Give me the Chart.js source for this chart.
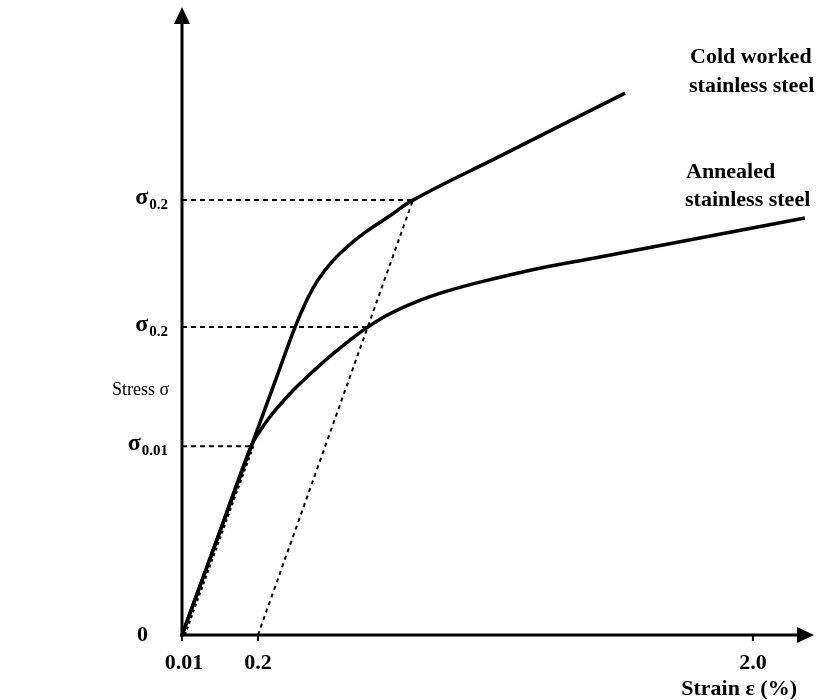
<!DOCTYPE html>
<html>
<head>
<meta charset="utf-8">
<script src="https://cdn.jsdelivr.net/npm/chart.js@4.4.1/dist/chart.umd.min.js"></script>
<style>
  body { margin: 0; background: #fff; }
  #wrap { width: 823px; height: 700px; position: relative; }
</style>
</head>
<body>
<div id="wrap"><canvas id="grafic"></canvas></div>
<script>
// schematic units: x = strain (2.0 tick at 2.0), y = stress (upper sigma 0.2 = 1)
const coldStrain = [0, 0.12, 0.242, 0.33, 0.396, 0.438, 0.476, 0.525, 0.581, 0.644, 0.722, 0.809, 1.114, 1.552];
const coldStress = [0, 0.215, 0.433, 0.590, 0.708, 0.771, 0.816, 0.858, 0.894, 0.927, 0.961, 1.0, 1.101, 1.246];

const annealStrain = [0, 0.12, 0.242, 0.270, 0.305, 0.347, 0.399, 0.462, 0.539, 0.627, 0.715, 0.820, 0.925, 1.047, 1.257, 1.464, 2.182];
const annealStress = [0, 0.215, 0.434, 0.466, 0.499, 0.532, 0.569, 0.608, 0.652, 0.697, 0.734, 0.766, 0.790, 0.812, 0.844, 0.869, 0.959];

const offsetStrain = [0.266, 0.809];
const offsetStress = [0, 1.0];

const elasticStrain = [0.01, 0.25];
const elasticStress = [0, 0.434];

const proofStress = [1.0, 0.708, 0.434];
const proofStrain = [0.809, 0.651, 0.242];

const xTickValues = [0, 0.266, 2.0];
const xTickLabels = ['0.01', '0.2', '2.0'];

const yTickValues = [0, 0.434, 0.708, 1.0];
const yTickLabels = [['0', ''], ['σ', '0.01'], ['σ', '0.2'], ['σ', '0.2']];

const serif = '"Liberation Serif", "Times New Roman", serif';

function points(xs, ys) {
    return xs.map((x, i) => ({x: x, y: ys[i]}));
}

function dashed(xs, ys, dash, width) {
    return {
        data: points(xs, ys),
        borderColor: '#000',
        borderWidth: width,
        borderDash: dash,
        pointRadius: 0,
        tension: 0
    };
}

const datasets = [
    {
        label: 'Cold worked stainless steel',
        data: points(coldStrain, coldStress),
        borderColor: '#000',
        borderWidth: 3.5,
        pointRadius: 0,
        tension: 0.4
    },
    {
        label: 'Annealed stainless steel',
        data: points(annealStrain, annealStress),
        borderColor: '#000',
        borderWidth: 3.5,
        pointRadius: 0,
        tension: 0.4
    },
    dashed(offsetStrain, offsetStress, [4, 4], 2),
    dashed(elasticStrain, elasticStress, [3, 3], 2)
];
proofStress.forEach((s, i) => {
    datasets.push(dashed([0, proofStrain[i]], [s, s], [5, 4], 2));
});

// axes with arrows, tick labels and the curve names
const axesPlugin = {
    id: 'axes',
    afterDraw(chart) {
        const ctx = chart.ctx;
        const xs = chart.scales.x;
        const ys = chart.scales.y;
        const x0 = xs.getPixelForValue(0);
        const y0 = ys.getPixelForValue(0);
        const area = chart.chartArea;
        ctx.save();
        ctx.strokeStyle = '#000';
        ctx.fillStyle = '#000';
        ctx.lineWidth = 3;
        ctx.beginPath();
        ctx.moveTo(x0, y0 + 2);
        ctx.lineTo(x0, area.top + 12);
        ctx.moveTo(x0 - 2, y0);
        ctx.lineTo(area.right - 12, y0);
        ctx.stroke();

        ctx.beginPath();
        ctx.moveTo(x0, area.top);
        ctx.lineTo(x0 - 8, area.top + 17);
        ctx.lineTo(x0 + 8, area.top + 17);
        ctx.closePath();
        ctx.fill();
        ctx.beginPath();
        ctx.moveTo(area.right, y0);
        ctx.lineTo(area.right - 17, y0 - 8);
        ctx.lineTo(area.right - 17, y0 + 8);
        ctx.closePath();
        ctx.fill();

        // x ticks
        ctx.lineWidth = 2;
        ctx.font = 'bold 22px ' + serif;
        ctx.textAlign = 'center';
        ctx.textBaseline = 'middle';
        xTickValues.forEach((v, i) => {
            const px = xs.getPixelForValue(v);
            ctx.beginPath();
            ctx.moveTo(px, y0);
            ctx.lineTo(px, y0 + 6);
            ctx.stroke();
            ctx.fillText(xTickLabels[i], px + (i == 0 ? 2 : 0), y0 + 28);
        });
        ctx.textAlign = 'right';
        ctx.textBaseline = 'alphabetic';
        ctx.fillText('Strain ε (%)', 797, 695);

        // y ticks with subscripts
        yTickValues.forEach((v, i) => {
            const py = ys.getPixelForValue(v);
            const base = yTickLabels[i][0];
            const sub = yTickLabels[i][1];
            ctx.textBaseline = 'middle';
            if (sub === '') {
                ctx.font = 'bold 22px ' + serif;
                ctx.textAlign = 'right';
                ctx.fillText(base, x0 - 34, py);
                return;
            }
            ctx.font = 'bold 15px ' + serif;
            const subW = ctx.measureText(sub).width;
            ctx.textAlign = 'right';
            ctx.fillText(sub, x0 - 14, py + 5);
            ctx.font = 'bold 24px ' + serif;
            ctx.fillText(base, x0 - 14 - subW - 1, py - 2);
        });

        ctx.font = '18px ' + serif;
        ctx.textAlign = 'left';
        ctx.textBaseline = 'middle';
        ctx.fillText('Stress σ', 112, 390);

        ctx.font = 'bold 22px ' + serif;
        ctx.textBaseline = 'alphabetic';
        ctx.fillText('Cold worked', 690, 63);
        ctx.fillText('stainless steel', 689, 92);
        ctx.fillText('Annealed', 686, 178);
        ctx.fillText('stainless steel', 685, 206);
        ctx.restore();
    }
};

const ctx = document.getElementById('grafic');
new Chart(ctx, {
    type: 'line',
    data: {datasets: datasets},
    options: {
        responsive: true,
        maintainAspectRatio: false,
        animation: false,
        layout: {padding: {left: 182, right: 9, top: 7, bottom: 65}},
        plugins: {legend: {display: false}, tooltip: {enabled: false}},
        scales: {
            x: {type: 'linear', min: 0, max: 2.214, display: false},
            y: {type: 'linear', min: 0, max: 1.444, display: false}
        }
    },
    plugins: [axesPlugin]
});
</script>
</body>
</html>
